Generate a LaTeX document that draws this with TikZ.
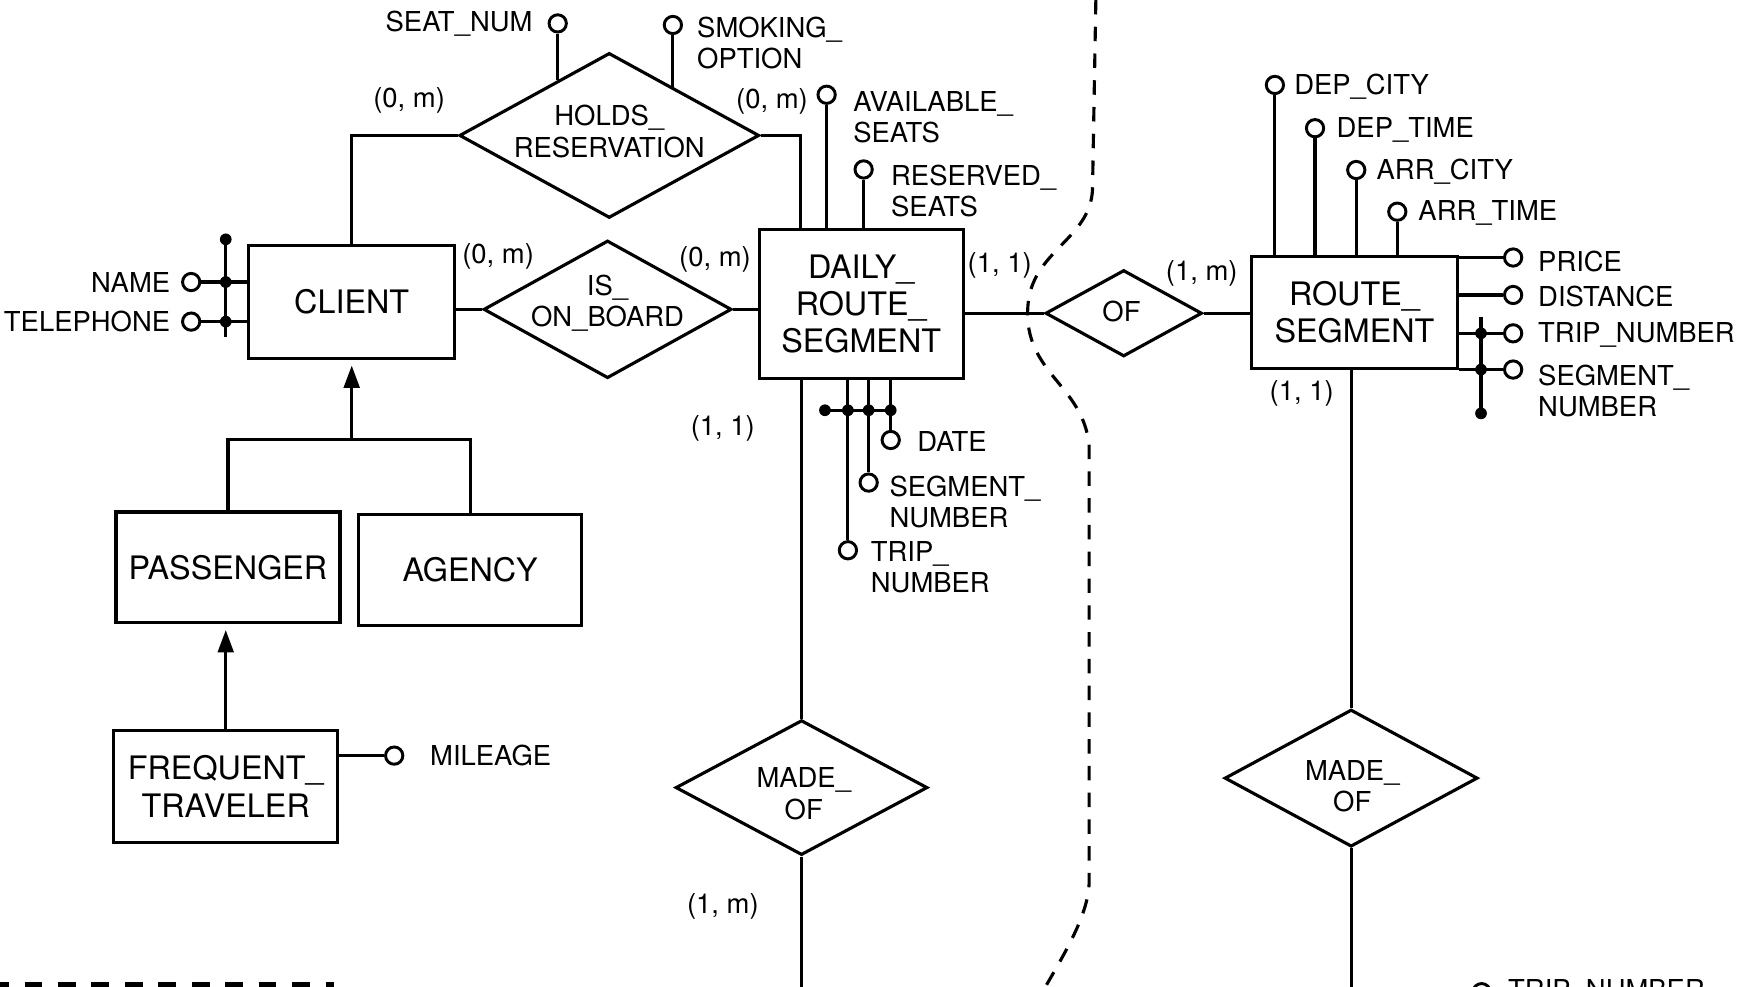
\documentclass[tikz,border=0pt]{standalone}
\usepackage{fontspec}
\setmainfont{TeX Gyre Heros}
\usepackage{tikz}
\usetikzlibrary{arrows.meta, positioning, shapes.geometric, calc}

\begin{document}
\begin{tikzpicture}[x=0.2mm, y=-0.2mm, line width=1.6pt,
  entity/.style={draw, rectangle, inner sep=0pt, align=center,
    font=\fontsize{16.5}{19}\selectfont},
  rel/.style={draw, diamond, inner sep=0pt},
  reltext/.style={inner sep=0pt, align=center, font=\fontsize{14}{16}\selectfont},
  attr/.style={draw, circle, fill=white, inner sep=0pt, minimum size=3.1mm, line width=1.5pt},
  keydot/.style={circle, fill, inner sep=0pt, minimum size=2.1mm},
  attrtext/.style={inner sep=0pt, align=left, font=\fontsize{14}{15.8}\selectfont},
  card/.style={inner sep=0pt, font=\fontsize{14}{16}\selectfont},
  isa/.style={-{Triangle[length=4mm, width=2.8mm]}, shorten >=1mm},
  boundary/.style={dash pattern=on 2.6mm off 2.2mm}
]
  \useasboundingbox (0,0) rectangle (1568,885);
  \clip (0,0) rectangle (1568,885);

  % entities
  \node[entity, minimum width=37mm, minimum height=20.2mm] (client) at (315.5,271) {CLIENT};
  \node[entity, minimum width=40.2mm, minimum height=19.9mm] (passenger) at (204.5,509) {PASSENGER};
  \node[entity, minimum width=40mm, minimum height=19.8mm] (agency) at (421.7,511.4) {AGENCY};
  \node[entity, minimum width=40.2mm, minimum height=20.2mm] (freq) at (202.5,705.4) {FREQUENT\_\\TRAVELER};
  \node[entity, minimum width=36.6mm, minimum height=26.7mm] (drs) at (772.5,272.8) {DAILY\_\\ROUTE\_\\SEGMENT};
  \node[entity, minimum width=36.9mm, minimum height=20mm] (rs) at (1215,280.3) {ROUTE\_\\SEGMENT};

  % relationships
  \node[rel, minimum width=53.8mm, minimum height=29.6mm] (holds) at (546.5,121.5) {};
  \node[reltext] (holdsT) at (546.5,118) {HOLDS\_\\RESERVATION};
  \node[rel, minimum width=44.5mm, minimum height=24.7mm] (isob) at (545,277.5) {};
  \node[reltext] (isobT) at (545,272) {IS\_\\ON\_BOARD};
  \node[rel, minimum width=28.1mm, minimum height=15.5mm] (of) at (1008,281) {};
  \node[reltext] (ofT) at (1006,279) {OF};
  \node[rel, minimum width=45.2mm, minimum height=24.2mm] (madeA) at (719,706.5) {};
  \node[reltext] (madeAT) at (721,712) {MADE\_\\OF};
  \node[rel, minimum width=45.4mm, minimum height=24.6mm] (madeB) at (1212,698) {};
  \node[reltext] (madeBT) at (1213,705) {MADE\_\\OF};

  % links
  \coordinate (hcorner) at (718,121.5);
  \coordinate (cutA) at (719,885);
  \coordinate (cutB) at (1212,885);
  \draw (client.north) |- (holds.west);
  \draw (holds.east) -- (hcorner) -- (hcorner |- drs.north);
  \draw (isob.west -| client.east) -- (isob.west);
  \draw (isob.east) -- (isob.east -| drs.west);
  \draw (of.west -| drs.east) -- (of.west);
  \draw (of.east) -- (of.east -| rs.west);
  \draw (madeA.north |- drs.south) -- (madeA.north);
  \draw (madeA.south) -- (cutA);
  \draw (madeB.north |- rs.south) -- (madeB.north);
  \draw (madeB.south) -- (cutB);

  % generalizations
  \coordinate (gen) at (315.5,394.6);
  \draw (passenger.north) |- (gen) -| (agency.north);
  \draw[isa] (gen) -- (client.south);
  \draw[isa] (freq.north) -- (freq.north |- passenger.south);

  % attributes of CLIENT
  \node[attr] (name) at (171.5,253) {};
  \node[attr] (tel) at (171.5,288.5) {};
  \draw (name) -- (name -| client.west);
  \draw (tel) -- (tel -| client.west);
  \node[keydot] (cid0) at (202.5,214.7) {};
  \coordinate (cidend) at (202.5,302);
  \draw (cid0.center) -- (cidend);
  \node[keydot] (cid1) at (name -| cid0) {};
  \node[keydot] (cid2) at (tel -| cid0) {};
  \node[attrtext, anchor=east] (nameL) at (154,253) {NAME};
  \node[attrtext, anchor=east] (telL) at (154,288.5) {TELEPHONE};

  % attributes of HOLDS_RESERVATION
  \coordinate (seatF) at ($(holds.west)!0.66!(holds.north)$);
  \coordinate (smokF) at ($(holds.north)!0.42!(holds.east)$);
  \node[attr] (seat) at (seatF |- 0,21) {};
  \node[attr] (smok) at (smokF |- 0,22.4) {};
  \draw (seat) -- (seatF);
  \draw (smok) -- (smokF);
  \node[attrtext, anchor=east] (seatL) at (479,21) {SEAT\_NUM};
  \node[attrtext, anchor=north west] (smokL) at (624,13.5) {SMOKING\_\\OPTION};

  % attributes of DAILY_ROUTE_SEGMENT
  \node[attr] (avail) at (741.5,85) {};
  \node[attr] (resv) at (774.7,152) {};
  \draw (avail) -- (avail |- drs.north);
  \draw (resv) -- (resv |- drs.north);
  \node[attrtext, anchor=north west] (availL) at (764,80.8) {AVAILABLE\_\\SEATS};
  \node[attrtext, anchor=north west] (resvL) at (798,146.6) {RESERVED\_\\SEATS};

  \node[attr] (date) at (799,394.7) {};
  \node[attr] (segno) at (779.2,432.9) {};
  \node[attr] (tripno) at (760.6,493.6) {};
  \draw (date) -- (date |- drs.south);
  \draw (segno) -- (segno |- drs.south);
  \draw (tripno) -- (tripno |- drs.south);
  \node[keydot] (did0) at (740,368) {};
  \node[keydot] (did1) at (tripno |- did0) {};
  \node[keydot] (did2) at (segno |- did0) {};
  \node[keydot] (did3) at (date |- did0) {};
  \draw (did0.center) -- (did3.center);
  \node[attrtext, anchor=west] (dateL) at (821.4,396.4) {DATE};
  \node[attrtext, anchor=north west] (segnoL) at (796.5,425.7) {SEGMENT\_\\NUMBER};
  \node[attrtext, anchor=north west] (tripnoL) at (779.8,484.7) {TRIP\_\\NUMBER};

  % attributes of ROUTE_SEGMENT
  \node[attr] (depc) at (1143.6,76.2) {};
  \node[attr] (dept) at (1179.6,115) {};
  \node[attr] (arrc) at (1216.6,152.5) {};
  \node[attr] (arrt) at (1253.4,189.9) {};
  \draw (depc) -- (depc |- rs.north);
  \draw (dept) -- (dept |- rs.north);
  \draw (arrc) -- (arrc |- rs.north);
  \draw (arrt) -- (arrt |- rs.north);
  \node[attrtext, anchor=west] (depcL) at (1159.6,77.8) {DEP\_CITY};
  \node[attrtext, anchor=west] (deptL) at (1197.6,116.6) {DEP\_TIME};
  \node[attrtext, anchor=west] (arrcL) at (1233.5,154) {ARR\_CITY};
  \node[attrtext, anchor=west] (arrtL) at (1271,191.4) {ARR\_TIME};

  \node[attr] (price) at (1357.3,231) {};
  \node[attr] (dist) at (1357.3,264.6) {};
  \node[attr] (trip) at (1357.3,299) {};
  \node[attr] (segm) at (1357.3,331.5) {};
  \draw (price) -- (price -| rs.east);
  \draw (dist) -- (dist -| rs.east);
  \draw (trip) -- (trip -| rs.east);
  \draw (segm) -- (segm -| rs.east);
  \coordinate (ridtop) at (1328.5,284);
  \node[keydot] (rid0) at (1328.5,370.8) {};
  \draw (ridtop) -- (rid0.center);
  \node[keydot] (rid1) at (trip -| ridtop) {};
  \node[keydot] (rid2) at (segm -| ridtop) {};
  \node[attrtext, anchor=west] (priceL) at (1378.4,234.7) {PRICE};
  \node[attrtext, anchor=west] (distL) at (1378.4,266) {DISTANCE};
  \node[attrtext, anchor=west] (tripL) at (1378.4,300.5) {TRIP\_NUMBER};
  \node[attrtext, anchor=north west] (segmL) at (1378.4,326.1) {SEGMENT\_\\NUMBER};

  % attribute of FREQUENT_TRAVELER
  \node[attr] (mile) at (353.6,677.8) {};
  \draw (mile) -- (mile -| freq.east);
  \node[attrtext, anchor=west] (mileL) at (384.5,678) {MILEAGE};

  % cardinalities
  \node[card] (cA) at (367,90) {(0, m)};
  \node[card] (cB) at (692.5,91) {(0, m)};
  \node[card] (cC) at (446.8,230) {(0, m)};
  \node[card] (cD) at (641.4,233) {(0, m)};
  \node[card] (cE) at (896.7,237.7) {(1, 1)};
  \node[card] (cF) at (1078,245) {(1, m)};
  \node[card] (cG) at (1167.6,352.8) {(1, 1)};
  \node[card] (cH) at (648.4,384.3) {(1, 1)};
  \node[card] (cI) at (648.4,813.2) {(1, m)};

  % boundary of the schema part
  \draw[boundary] (983,0) -- (980,170)
    .. controls (978,215) and (925,225) .. (922,275)
    .. controls (918,335) and (972,345) .. (977,400)
    -- (977,790)
    .. controls (977,820) and (955,855) .. (935,890);

  % cut-off parts at the lower edge
  \draw[line width=2.2mm, dash pattern=on 3.2mm off 2.8mm] (-8,886) -- (300,886);
  \node[attr] (trip2) at (1329,890) {};
  \node[attrtext, anchor=west] (trip2L) at (1351.5,890) {TRIP\_NUMBER};
\end{tikzpicture}
\end{document}
